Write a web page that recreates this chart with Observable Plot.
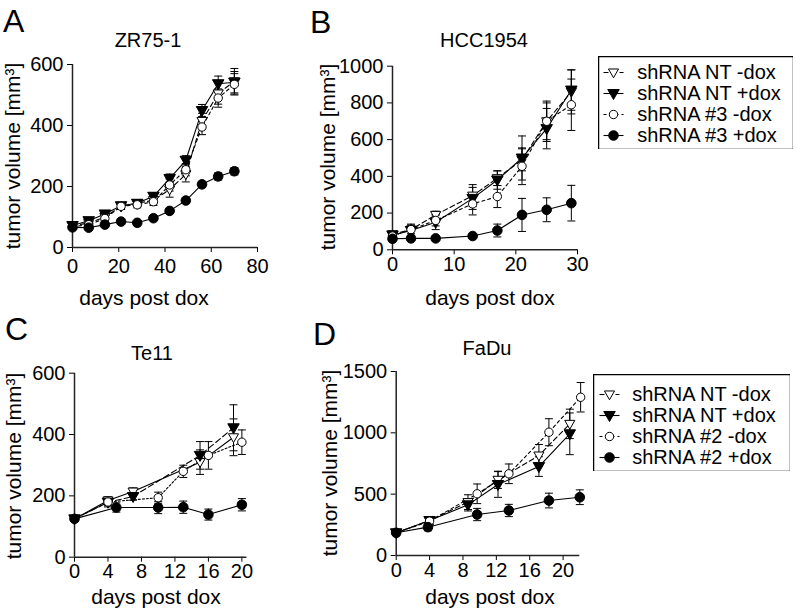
<!DOCTYPE html>
<html><head><meta charset="utf-8">
<script src="https://cdn.jsdelivr.net/npm/d3@7"></script>
<script src="https://cdn.jsdelivr.net/npm/@observablehq/plot@0.6"></script>
<style>
body{margin:0;background:#fff;}
#wrap{position:relative;width:796px;height:611px;font-family:"Liberation Sans",Arial,sans-serif;color:#000;overflow:hidden;background:#fff}
.t{position:absolute;white-space:nowrap;line-height:1}
.p{position:absolute}
</style></head><body><div id="wrap"></div>
<script>
// ---------------- DATA ----------------
// Panel A — ZR75-1
const titleA = "ZR75-1";
const xTicksA = [0, 20, 40, 60, 80];
const yTicksA = [0, 200, 400, 600];
const daysA = [0, 7, 14, 21, 28, 35, 42, 49, 56, 63, 70];
const A_ntMinus = [72, 80, 100, 135, 145, 155, 190, 240, 415, 505, 545];
const A_ntMinusErr = [8, 8, 10, 10, 10, 12, 25, 25, 25, 35, 42];
const A_ntPlus = [72, 88, 110, 137, 145, 168, 226, 286, 449, 537, 542];
const A_ntPlusErr = [8, 8, 10, 10, 10, 12, 15, 15, 20, 25, 35];
const A_shMinus = [68, 75, 95, 135, 140, 150, 205, 255, 395, 490, 535];
const A_shMinusErr = [8, 8, 10, 10, 10, 12, 20, 20, 25, 30, 35];
const A_shPlus = [66, 65, 75, 85, 81, 96, 120, 154, 207, 233, 250];
const A_shPlusErr = [6, 6, 6, 6, 6, 6, 6, 6, 10, 12, 12];

// Panel B — HCC1954
const titleB = "HCC1954";
const xTicksB = [0, 10, 20, 30];
const yTicksB = [0, 200, 400, 600, 800, 1000];
const daysB = [0, 3, 7, 13, 17, 21, 25, 29];
const B_ntMinus = [85, 110, 190, 295, 390, 490, 700, 860];
const B_ntMinusErr = [15, 30, 20, 60, 40, 60, 100, 120];
const B_ntPlus = [80, 105, 150, 280, 380, 500, 660, 870];
const B_ntPlusErr = [15, 30, 40, 60, 50, 120, 110, 110];
const B_shMinus = [75, 110, 160, 250, 290, 455, 700, 790];
const B_shMinusErr = [15, 20, 30, 60, 60, 100, 110, 140];
const B_shPlus = [60, 62, 62, 75, 105, 190, 218, 254];
const B_shPlusErr = [10, 10, 10, 10, 35, 90, 65, 97];

// Panel C — Te11
const titleC = "Te11";
const xTicksC = [0, 4, 8, 12, 16, 20];
const yTicksC = [0, 200, 400, 600];
const C_ntDays = [0, 4, 7, 15, 19];
const C_ntMinus = [125, 185, 214, 310, 391];
const C_ntMinusErr = [8, 12, 12, 40, 60];
const C_ntPlus = [125, 179, 198, 332, 422];
const C_ntPlusErr = [8, 15, 12, 45, 75];
const C_shMinusDays = [0, 4, 10, 13, 16, 20];
const C_shMinus = [125, 180, 194, 280, 332, 375];
const C_shMinusErr = [8, 12, 18, 20, 45, 40];
const C_shPlusDays = [0, 5, 10, 13, 16, 20];
const C_shPlus = [125, 162, 162, 163, 139, 171];
const C_shPlusErr = [8, 15, 20, 20, 18, 20];

// Panel D — FaDu
const titleD = "FaDu";
const xTicksD = [0, 4, 8, 12, 16, 20];
const yTicksD = [0, 500, 1000, 1500];
const D_ntDays = [0, 4, 8.6, 12.2, 17.1, 20.8];
const D_ntMinus = [185, 285, 435, 617, 815, 1073];
const D_ntMinusErr = [10, 30, 60, 70, 90, 120];
const D_ntPlus = [185, 285, 413, 579, 725, 992];
const D_ntPlusErr = [10, 30, 50, 105, 80, 170];
const D_shMinusDays = [0, 4, 9.7, 13.5, 18.3, 22.1];
const D_shMinus = [185, 280, 503, 666, 1005, 1290];
const D_shMinusErr = [10, 30, 80, 80, 110, 120];
const D_shPlusDays = [0, 3.8, 9.7, 13.5, 18.3, 22];
const D_shPlus = [185, 231, 334, 367, 448, 475];
const D_shPlusErr = [10, 30, 50, 50, 60, 60];

const legendB = ["shRNA NT -dox", "shRNA NT +dox", "shRNA #3 -dox", "shRNA #3 +dox"];
const legendD = ["shRNA NT -dox", "shRNA NT +dox", "shRNA #2 -dox", "shRNA #2 +dox"];
const yLabel = "tumor volume [mm³]";
const xLabel = "days post dox";

// ---------------- STYLES ----------------
const symTriDown = {draw(ctx, size) {
  const r = Math.sqrt(size / Math.PI);
  ctx.moveTo(-r * 1.15, -r * 0.8); ctx.lineTo(r * 1.15, -r * 0.8); ctx.lineTo(0, r * 1.2); ctx.closePath();
}};
const symCap = {draw(ctx, size) {
  const r = Math.sqrt(size / Math.PI);
  ctx.moveTo(-r, 0); ctx.lineTo(r, 0);
}};
const STY = {
  ntMinus: {symbol: symTriDown, fill: "white", r: 4.4, dash: "5,3"},
  ntPlus: {symbol: symTriDown, fill: "black", r: 5},
  shMinus: {symbol: "circle", fill: "white", r: 4.2, dash: "3,3"},
  shPlus: {symbol: "circle", fill: "black", r: 4.8}
};
const FONT = '"Liberation Sans", Arial, sans-serif';
const fmt = d3.format("d");

function makePanel(cfg) {
  const marks = [
    Plot.ruleX([0], {stroke: "#222", strokeWidth: 1.5}),
    Plot.ruleY([0], {stroke: "#222", strokeWidth: 1.5})
  ];
  const ser = cfg.series.map(s => ({...s, rows: s.days.map((d, i) => ({day: d, v: s.values[i], e: s.errs[i]}))}));
  for (const s of ser) marks.push(Plot.line(s.rows, {x: "day", y: "v", stroke: "black", strokeWidth: 1.1, strokeDasharray: s.dash}));
  for (const s of ser) {
    marks.push(Plot.ruleX(s.rows, {x: "day", y1: d => d.v - d.e, y2: d => d.v + d.e, stroke: "black", strokeWidth: 1}));
    const caps = s.rows.flatMap(d => [{day: d.day, y: d.v - d.e}, {day: d.day, y: d.v + d.e}]);
    marks.push(Plot.dot(caps, {x: "day", y: "y", symbol: symCap, r: 4, stroke: "black", fill: "none", strokeWidth: 1}));
  }
  for (const s of ser) marks.push(Plot.dot(s.rows, {x: "day", y: "v", symbol: s.symbol, r: s.r, fill: s.fill, stroke: "black", strokeWidth: 1}));
  const svg = Plot.plot({
    width: cfg.w, height: cfg.h,
    marginLeft: cfg.ml, marginRight: cfg.mr, marginTop: cfg.mt, marginBottom: cfg.mb,
    style: {fontFamily: FONT, fontSize: "20px", color: "black", background: "transparent", overflow: "visible"},
    x: {domain: cfg.xd, ticks: cfg.xt, tickFormat: fmt, tickSize: 5, tickPadding: cfg.xpad, label: null},
    y: {domain: cfg.yd, ticks: cfg.yt, tickFormat: fmt, tickSize: 5, tickPadding: 4, label: null},
    marks
  });
  svg.classList.add("p");
  svg.style.left = cfg.left + "px"; svg.style.top = cfg.top + "px";
  return svg;
}

function makeLegend(labels, styles, cfg) {
  const items = labels.map((l, i) => ({label: l, ...styles[i]}));
  const marks = [Plot.frame({stroke: "black", strokeWidth: 1.5})];
  items.forEach(it => {
    marks.push(Plot.dot([it], {y: "label", frameAnchor: "left", dx: cfg.sx, symbol: symCap, r: 10, stroke: "black", fill: "none", strokeWidth: 1.1, strokeDasharray: it.dash}));
    marks.push(Plot.dot([it], {y: "label", frameAnchor: "left", dx: cfg.sx, symbol: it.symbol, r: it.r, fill: it.fill, stroke: "black", strokeWidth: 1}));
  });
  marks.push(Plot.text(items, {y: "label", text: "label", frameAnchor: "left", dx: cfg.tx, textAnchor: "start", fontSize: 20}));
  const svg = Plot.plot({
    width: cfg.w, height: cfg.h, margin: 0,
    style: {fontFamily: FONT, fontSize: "20px", color: "black", background: "white"},
    y: {type: "point", domain: labels, range: cfg.yr, padding: 0, axis: null},
    marks
  });
  svg.classList.add("p");
  svg.style.left = cfg.left + "px"; svg.style.top = cfg.top + "px";
  return svg;
}

const wrap = document.getElementById("wrap");
function addText(txt, x, baseline, size, opts = {}) {
  const d = document.createElement("div");
  d.className = "t"; d.textContent = txt; d.style.fontSize = size + "px";
  if (opts.rotate) {
    d.style.left = x + "px"; d.style.top = baseline + "px";
    d.style.transform = "translate(-50%,-50%) rotate(-90deg)";
  } else {
    d.style.left = x + "px"; d.style.top = (baseline - 0.85 * size) + "px";
    if (opts.center) d.style.transform = "translateX(-50%)";
  }
  wrap.appendChild(d);
}

// ---------------- PANELS ----------------
wrap.appendChild(makePanel({
  left: 0, top: 0, w: 270, h: 300, ml: 72, mr: 13, mt: 64, mb: 53, xpad: 6,
  xd: [0, 80], xt: xTicksA, yd: [0, 600], yt: yTicksA,
  series: [
    {days: daysA, values: A_ntMinus, errs: A_ntMinusErr, ...STY.ntMinus},
    {days: daysA, values: A_ntPlus, errs: A_ntPlusErr, ...STY.ntPlus},
    {days: daysA, values: A_shMinus, errs: A_shMinusErr, ...STY.shMinus},
    {days: daysA, values: A_shPlus, errs: A_shPlusErr, ...STY.shPlus}
  ]
}));
wrap.appendChild(makePanel({
  left: 270, top: 0, w: 330, h: 300, ml: 122, mr: 23, mt: 65.7, mb: 50.7, xpad: 2,
  xd: [0, 30], xt: xTicksB, yd: [0, 1000], yt: yTicksB,
  series: [
    {days: daysB, values: B_ntMinus, errs: B_ntMinusErr, ...STY.ntMinus},
    {days: daysB, values: B_ntPlus, errs: B_ntPlusErr, ...STY.ntPlus},
    {days: daysB, values: B_shMinus, errs: B_shMinusErr, ...STY.shMinus},
    {days: daysB, values: B_shPlus, errs: B_shPlusErr, ...STY.shPlus}
  ]
}));
wrap.appendChild(makePanel({
  left: 0, top: 300, w: 270, h: 311, ml: 74, mr: 23.6, mt: 72.7, mb: 54.3, xpad: 2,
  xd: [0, 20.6], xt: xTicksC, yd: [0, 600], yt: yTicksC,
  series: [
    {days: C_ntDays, values: C_ntMinus, errs: C_ntMinusErr, ...STY.ntMinus, dash: undefined},
    {days: C_ntDays, values: C_ntPlus, errs: C_ntPlusErr, ...STY.ntPlus, dash: "6,3"},
    {days: C_shMinusDays, values: C_shMinus, errs: C_shMinusErr, ...STY.shMinus, dash: "2,2"},
    {days: C_shPlusDays, values: C_shPlus, errs: C_shPlusErr, ...STY.shPlus}
  ]
}));
wrap.appendChild(makePanel({
  left: 270, top: 300, w: 330, h: 311, ml: 125.7, mr: 20.7, mt: 71, mb: 56, xpad: 2,
  xd: [0, 22], xt: xTicksD, yd: [0, 1500], yt: yTicksD,
  series: [
    {days: D_ntDays, values: D_ntMinus, errs: D_ntMinusErr, ...STY.ntMinus},
    {days: D_ntDays, values: D_ntPlus, errs: D_ntPlusErr, ...STY.ntPlus},
    {days: D_shMinusDays, values: D_shMinus, errs: D_shMinusErr, ...STY.shMinus},
    {days: D_shPlusDays, values: D_shPlus, errs: D_shPlusErr, ...STY.shPlus}
  ]
}));

const legStyles = [STY.ntMinus, STY.ntPlus, STY.shMinus, STY.shPlus];
wrap.appendChild(makeLegend(legendB, legStyles, {left: 598, top: 56, w: 195, h: 93, yr: [15.7, 79], sx: 15, tx: 38.7}));
wrap.appendChild(makeLegend(legendD, legStyles, {left: 593, top: 374, w: 197, h: 97, yr: [19, 83], sx: 16, tx: 38.7}));

// ---------------- TEXT ----------------
addText("A", 3, 32, 32);
addText("B", 310, 33, 32);
addText("C", 5, 340, 32);
addText("D", 313, 345, 32);
addText(titleA, 148, 47, 20, {center: true});
addText(titleB, 484, 47, 20, {center: true});
addText(titleC, 152, 360, 20, {center: true});
addText(titleD, 487, 355, 20, {center: true});
addText(yLabel, 12, 156, 21, {rotate: true});
addText(yLabel, 327, 157, 21, {rotate: true});
addText(yLabel, 13, 466, 21, {rotate: true});
addText(yLabel, 329, 463, 21, {rotate: true});
addText(xLabel, 144, 305, 21, {center: true});
addText(xLabel, 490, 305, 21, {center: true});
addText(xLabel, 156, 604, 21, {center: true});
addText(xLabel, 490, 604, 21, {center: true});
</script></body></html>
